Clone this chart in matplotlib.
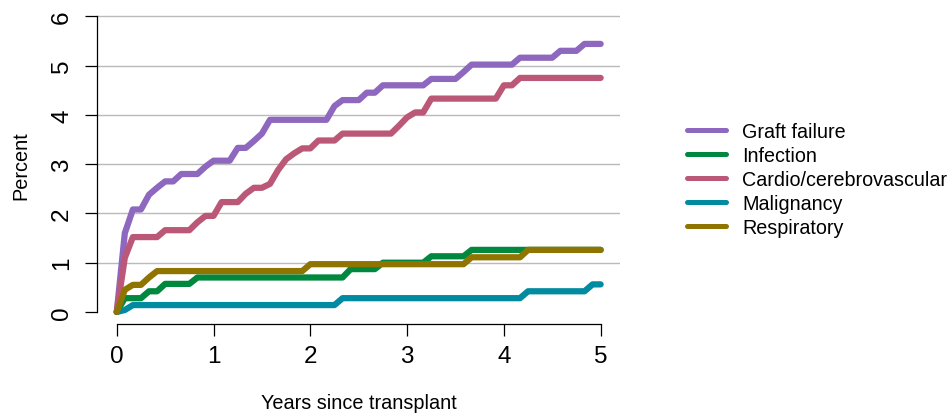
import numpy as np
import matplotlib
matplotlib.use("Agg")
import matplotlib.pyplot as plt

plt.rcParams['font.family'] = ['Liberation Sans', 'DejaVu Sans']

# Monthly follow-up grid, 0 to 60 months
months = np.arange(61)
years = months / 12.0

series_names = ["Graft failure", "Infection", "Cardio/cerebrovascular",
                "Malignancy", "Respiratory"]
series_colors = ["#8e67be", "#00883e", "#bb5878", "#008ba0", "#8f7500"]

# Cumulative incidence (%) by cause, month 0..60
graft_failure = [0, 1.6, 2.08, 2.08, 2.38, 2.52, 2.65, 2.65, 2.8, 2.8,
                 2.8, 2.95, 3.07, 3.07, 3.07, 3.33, 3.33, 3.47, 3.62, 3.9,
                 3.9, 3.9, 3.9, 3.9, 3.9, 3.9, 3.9, 4.18, 4.3, 4.3,
                 4.3, 4.45, 4.45, 4.6, 4.6, 4.6, 4.6, 4.6, 4.6, 4.73,
                 4.73, 4.73, 4.73, 4.87, 5.02, 5.02, 5.02, 5.02, 5.02, 5.02,
                 5.16, 5.16, 5.16, 5.16, 5.16, 5.3, 5.3, 5.3, 5.44, 5.44,
                 5.44]
infection = [0, 0.28, 0.28, 0.28, 0.42, 0.42, 0.57, 0.57, 0.57, 0.57,
             0.7, 0.7, 0.7, 0.7, 0.7, 0.7, 0.7, 0.7, 0.7, 0.7,
             0.7, 0.7, 0.7, 0.7, 0.7, 0.7, 0.7, 0.7, 0.7, 0.87,
             0.87, 0.87, 0.87, 1.0, 1.0, 1.0, 1.0, 1.0, 1.0, 1.13,
             1.13, 1.13, 1.13, 1.13, 1.26, 1.26, 1.26, 1.26, 1.26, 1.26,
             1.26, 1.26, 1.26, 1.26, 1.26, 1.26, 1.26, 1.26, 1.26, 1.26,
             1.26]
cardio = [0, 1.1, 1.52, 1.52, 1.52, 1.52, 1.66, 1.66, 1.66, 1.66,
          1.82, 1.95, 1.95, 2.23, 2.23, 2.23, 2.4, 2.52, 2.52, 2.6,
          2.88, 3.1, 3.22, 3.32, 3.32, 3.48, 3.48, 3.48, 3.62, 3.62,
          3.62, 3.62, 3.62, 3.62, 3.62, 3.78, 3.95, 4.05, 4.05, 4.33,
          4.33, 4.33, 4.33, 4.33, 4.33, 4.33, 4.33, 4.33, 4.6, 4.6,
          4.75, 4.75, 4.75, 4.75, 4.75, 4.75, 4.75, 4.75, 4.75, 4.75,
          4.75]
malignancy = [0, 0.04, 0.14, 0.14, 0.14, 0.14, 0.14, 0.14, 0.14, 0.14,
              0.14, 0.14, 0.14, 0.14, 0.14, 0.14, 0.14, 0.14, 0.14, 0.14,
              0.14, 0.14, 0.14, 0.14, 0.14, 0.14, 0.14, 0.14, 0.28, 0.28,
              0.28, 0.28, 0.28, 0.28, 0.28, 0.28, 0.28, 0.28, 0.28, 0.28,
              0.28, 0.28, 0.28, 0.28, 0.28, 0.28, 0.28, 0.28, 0.28, 0.28,
              0.28, 0.42, 0.42, 0.42, 0.42, 0.42, 0.42, 0.42, 0.42, 0.56,
              0.56]
respiratory = [0, 0.45, 0.55, 0.55, 0.7, 0.83, 0.83, 0.83, 0.83, 0.83,
               0.83, 0.83, 0.83, 0.83, 0.83, 0.83, 0.83, 0.83, 0.83, 0.83,
               0.83, 0.83, 0.83, 0.83, 0.97, 0.97, 0.97, 0.97, 0.97, 0.97,
               0.97, 0.97, 0.97, 0.97, 0.97, 0.97, 0.97, 0.97, 0.97, 0.97,
               0.97, 0.97, 0.97, 0.97, 1.11, 1.11, 1.11, 1.11, 1.11, 1.11,
               1.11, 1.26, 1.26, 1.26, 1.26, 1.26, 1.26, 1.26, 1.26, 1.26,
               1.26]

all_series = [graft_failure, infection, cardio, malignancy, respiratory]

x_ticks = [0, 1, 2, 3, 4, 5]
y_ticks = [0, 1, 2, 3, 4, 5, 6]

W, H = 951, 414
fig = plt.figure(figsize=(W / 100, H / 100), dpi=100)
left_px, right_px, top_px, bottom_px = 97.4, 620.0, 5.5, 324.8
ax = fig.add_axes([left_px / W, 1 - bottom_px / H,
                   (right_px - left_px) / W, (bottom_px - top_px) / H])
ax.set_xlim(-0.2, 5.2)
ax.set_ylim(-0.24, 6.24)

# horizontal reference lines
for yv in y_ticks[1:]:
    ax.axhline(yv, color="#bababa", lw=1.0, zorder=1)

for vals, name, col in zip(all_series, series_names, series_colors):
    ax.plot(years, vals, color=col, lw=4.5, label=name,
            solid_capstyle="round", solid_joinstyle="round", zorder=3)

for side in ("top", "right"):
    ax.spines[side].set_visible(False)
ax.spines["left"].set_bounds(0, 6)
ax.spines["bottom"].set_bounds(0, 5)
for side in ("left", "bottom"):
    ax.spines[side].set_linewidth(0.9)

ax.set_xticks(x_ticks)
ax.set_yticks(y_ticks)
ax.tick_params(axis="both", length=8.5, width=0.9, labelsize=17.5, direction="out")
ax.tick_params(axis="x", pad=7)
ax.tick_params(axis="y", pad=9)
for lab in ax.get_yticklabels():
    lab.set_rotation(90)
    lab.set_va("center")

ax.set_xlabel("Years since transplant", fontsize=14.3, labelpad=18.5)
ax.set_ylabel("Percent", fontsize=14.3, labelpad=15)

handles, labels = ax.get_legend_handles_labels()
leg = fig.legend(handles, labels, loc="center left",
                 bbox_to_anchor=(687 / W, 1 - 180.3 / H),
                 frameon=False, fontsize=14.2, handlelength=2.0,
                 handletextpad=0.8, labelspacing=0.25,
                 borderpad=0, borderaxespad=0)
for ln in leg.get_lines():
    ln.set_linewidth(3.6)

fig.savefig("out.png", dpi=100)
